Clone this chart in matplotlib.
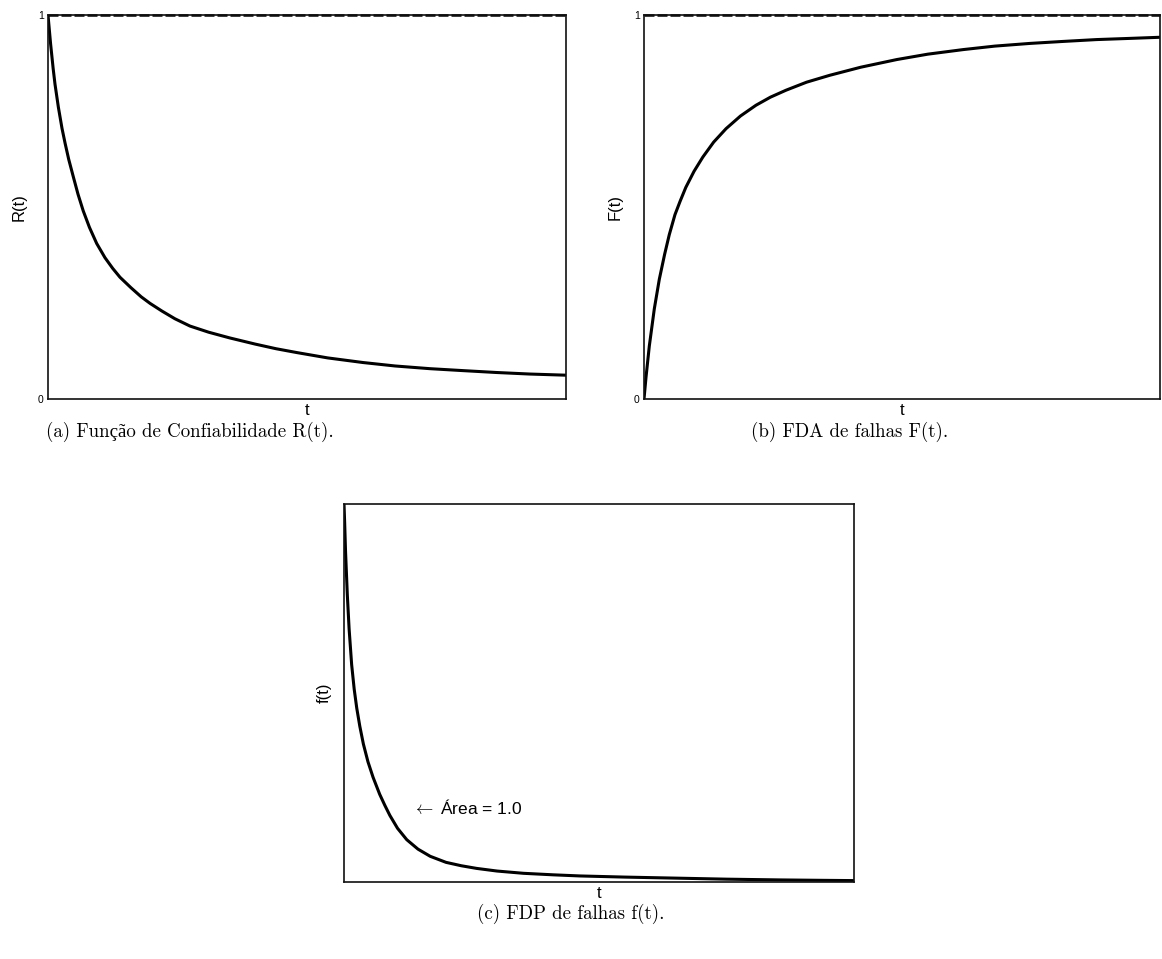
import matplotlib
matplotlib.use("Agg")
import matplotlib.pyplot as plt

# ---- data ----
t_R = [0, 0.005, 0.01, 0.0135, 0.02, 0.027, 0.033, 0.04, 0.049, 0.058, 0.068, 0.08, 0.094,
       0.11, 0.125, 0.139, 0.16, 0.18, 0.197, 0.22, 0.245, 0.274, 0.31, 0.351, 0.40, 0.44,
       0.48, 0.54, 0.608, 0.67, 0.737, 0.80, 0.866, 0.93, 1.0]
R_vals = [1.0, 0.925, 0.86, 0.82, 0.76, 0.705, 0.666, 0.624, 0.578, 0.533, 0.49, 0.447, 0.405,
          0.368, 0.34, 0.317, 0.29, 0.266, 0.249, 0.229, 0.209, 0.19, 0.174, 0.159, 0.143, 0.131,
          0.121, 0.107, 0.095, 0.086, 0.079, 0.074, 0.069, 0.065, 0.062]

t_F = [0, 0.004, 0.0103, 0.02, 0.0297, 0.04, 0.049, 0.06, 0.07, 0.081, 0.097, 0.114, 0.135,
       0.159, 0.187, 0.217, 0.245, 0.275, 0.315, 0.36, 0.42, 0.49, 0.55, 0.619, 0.68, 0.748,
       0.81, 0.877, 0.94, 1.0]
F_vals = [0.0, 0.058, 0.138, 0.235, 0.312, 0.377, 0.428, 0.48, 0.515, 0.551, 0.593, 0.63, 0.669,
          0.704, 0.737, 0.765, 0.786, 0.804, 0.825, 0.843, 0.864, 0.884, 0.898, 0.91, 0.919, 0.926,
          0.931, 0.936, 0.939, 0.942]

t_f = [0, 0.0013, 0.003, 0.0065, 0.01, 0.015, 0.02, 0.025, 0.031, 0.038, 0.047, 0.057, 0.07,
       0.08, 0.09, 0.105, 0.123, 0.145, 0.169, 0.2, 0.23, 0.26, 0.3, 0.352, 0.41, 0.463, 0.55,
       0.659, 0.75, 0.855, 0.93, 1.0]
f_vals = [1.0, 0.95, 0.875, 0.76, 0.67, 0.575, 0.51, 0.46, 0.412, 0.365, 0.318, 0.277, 0.232,
          0.203, 0.176, 0.142, 0.112, 0.087, 0.068, 0.052, 0.043, 0.036, 0.029, 0.023, 0.019, 0.016,
          0.013, 0.01, 0.0075, 0.0055, 0.0045, 0.0037]

y_ticks = [0, 1]
y_ticklabels = ["0", "1"]
captions = ["(a) Função de Confiabilidade R(t).", "(b) FDA de falhas F(t).", "(c) FDP de falhas f(t)."]
ylabels = ["R(t)", "F(t)", "f(t)"]
annotation = r"$\leftarrow$ Área = 1.0"

W, H = 1162, 959
fig = plt.figure(figsize=(W / 100, H / 100), dpi=100)
plt.rcParams["mathtext.fontset"] = "cm"

SANS = ["Liberation Sans", "DejaVu Sans"]
SERIF = ["cmr10", "Liberation Serif", "DejaVu Serif"]


def make_ax(x0, x1, y0, y1):
    return fig.add_axes([x0 / W, 1 - y1 / H, (x1 - x0) / W, (y1 - y0) / H])


def style(ax, ylabel, with_ticks=True):
    ax.set_xlim(0, 1)
    ax.set_ylim(0, 1)
    ax.set_xticks([])
    if with_ticks:
        ax.set_yticks(y_ticks)
        ax.set_yticklabels(y_ticklabels, family=SANS, fontsize=7.5)
    else:
        ax.set_yticks([])
    ax.tick_params(axis="y", length=0, pad=3)
    for s in ax.spines.values():
        s.set_linewidth(1.2)
        s.set_color("#111111")
    ax.set_xlabel("t", family=SANS, fontsize=12, labelpad=3)
    ax.set_ylabel(ylabel, family=SANS, fontsize=12, labelpad=8 if with_ticks else 9)


ax_a = make_ax(48, 566, 15, 399)
ax_a.plot(t_R, R_vals, color="k", lw=2.2, solid_joinstyle="round")
ax_a.axhline(1, color="k", lw=1.8, ls=(0, (4, 1.2)), clip_on=False)
style(ax_a, ylabels[0])

ax_b = make_ax(644, 1160, 15, 399)
ax_b.plot(t_F, F_vals, color="k", lw=2.2, solid_joinstyle="round")
ax_b.axhline(1, color="k", lw=1.8, ls=(0, (4, 1.2)), clip_on=False)
style(ax_b, ylabels[1])

ax_c = make_ax(344, 854, 504, 882)
ax_c.plot(t_f, f_vals, color="k", lw=2.2, solid_joinstyle="round")
style(ax_c, ylabels[2], with_ticks=False)
ax_c.text(0.133, 0.196, annotation, family=SANS, fontsize=12.5, ha="left", va="center")

fig.text(190 / W, 1 - 432 / H, captions[0], family=SERIF, fontsize=13.6, ha="center", va="center")
fig.text(850 / W, 1 - 432 / H, captions[1], family=SERIF, fontsize=13.6, ha="center", va="center")
fig.text(571 / W, 1 - 914 / H, captions[2], family=SERIF, fontsize=13.6, ha="center", va="center")

fig.savefig("out.png", dpi=100, facecolor="white")
